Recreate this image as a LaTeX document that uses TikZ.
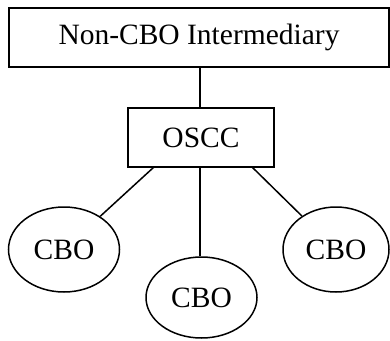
\documentclass[tikz,border=0pt]{standalone}
\usepackage{fontspec}
\setmainfont{Liberation Serif}
\usetikzlibrary{shapes.geometric}
\begin{document}
\begin{tikzpicture}[x=1pt,y=-1pt,
  every node/.style={font=\fontsize{29.5}{31}\selectfont, inner sep=0pt},
  boxnode/.style={draw, rectangle, line width=1.5pt},
  cbonode/.style={draw, ellipse, line width=1.5pt, minimum height=85pt},
  link/.style={line width=1.5pt}]
\useasboundingbox (0,0) rectangle (390,340);
\node[boxnode, minimum width=380pt, minimum height=59pt] (top) at (199,37.5) {Non-CBO Intermediary};
\node[boxnode, minimum width=146pt, minimum height=59pt] (oscc) at (201,137.5) {OSCC};
\node[cbonode, minimum width=111pt] (cbo1) at (64,249.5) {CBO};
\node[cbonode, minimum width=111pt, minimum height=81pt] (cbo2) at (201.5,297.5) {CBO};
\node[cbonode, minimum width=106pt] (cbo3) at (336,249.5) {CBO};
\coordinate (oL) at (154,167);
\coordinate (oR) at (252,167);
\coordinate (oT) at (200,108);
\coordinate (oB) at (200,167);
\draw[link] (top.south -| oT) -- (oT);
\draw[link] (oL) -- (cbo1);
\draw[link] (oB) -- (oB |- cbo2.north);
\draw[link] (oR) -- (cbo3);
\end{tikzpicture}
\end{document}
